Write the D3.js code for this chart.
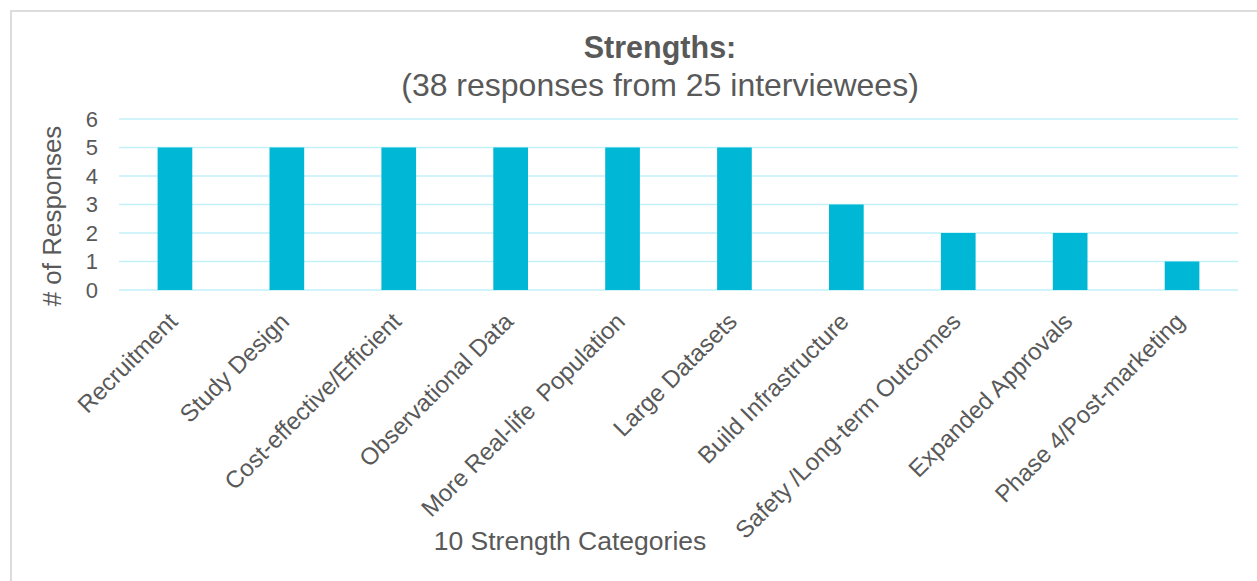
<!DOCTYPE html>
<html>
<head>
<meta charset="utf-8">
<script src="https://cdn.jsdelivr.net/npm/d3@7"></script>
<style>
  html, body { margin: 0; padding: 0; background: #ffffff; }
  svg { display: block; font-family: "Liberation Sans", Arial, sans-serif; }
</style>
</head>
<body>
<svg id="chart" width="1257" height="581"></svg>
<script>
// Strength categories and response counts
const categories = [
  "Recruitment",
  "Study Design",
  "Cost-effective/Efficient",
  "Observational Data",
  "More Real-life  Population",
  "Large Datasets",
  "Build Infrastructure",
  "Safety /Long-term Outcomes",
  "Expanded Approvals",
  "Phase 4/Post-marketing"
];
const responses = [5, 5, 5, 5, 5, 5, 3, 2, 2, 1];
const yTicks = [0, 1, 2, 3, 4, 5, 6];

const titleText = "Strengths:";
const subtitleText = "(38 responses from 25 interviewees)";
const xTitle = "10 Strength Categories";
const yTitle = "# of Responses";

const svg = d3.select("#chart");
const textColor = "#595959";
const barColor = "#00B8D6";
const gridColor = "#C2F1FA";

// outer frame
svg.append("rect")
  .attr("x", 11).attr("y", 11)
  .attr("width", 1400).attr("height", 800)
  .attr("fill", "#ffffff")
  .attr("stroke", "#DCDCDC")
  .attr("stroke-width", 2);

const plot = { left: 119, right: 1238, top: 119, bottom: 290 };

const x = d3.scaleBand()
  .domain(categories)
  .range([plot.left, plot.right])
  .paddingInner(0.69)
  .paddingOuter(0.345);

const y = d3.scaleLinear()
  .domain([0, 6])
  .range([plot.bottom, plot.top]);

// horizontal gridlines
svg.append("g")
  .selectAll("line")
  .data(yTicks)
  .join("line")
  .attr("x1", plot.left).attr("x2", plot.right)
  .attr("y1", d => y(d)).attr("y2", d => y(d))
  .attr("stroke", gridColor)
  .attr("stroke-width", 1.6);

// bars
svg.append("g")
  .selectAll("rect")
  .data(responses)
  .join("rect")
  .attr("x", (d, i) => x(categories[i]))
  .attr("width", x.bandwidth())
  .attr("y", d => y(d))
  .attr("height", d => y(0) - y(d))
  .attr("fill", barColor);

// y axis tick labels
const yAxis = d3.axisLeft(y).tickValues(yTicks).tickFormat(d3.format("d")).tickSize(0).tickPadding(21);
const gy = svg.append("g").attr("transform", `translate(${plot.left},0)`).call(yAxis);
gy.select(".domain").remove();
gy.selectAll("text")
  .attr("fill", textColor)
  .style("font-size", "22px")
  .attr("font-family", "Liberation Sans, Arial, sans-serif");

// x axis category labels, rotated
const xAxis = d3.axisBottom(x).tickSize(0).tickPadding(0);
const gx = svg.append("g").attr("transform", `translate(0,${plot.bottom})`).call(xAxis);
gx.select(".domain").remove();
gx.selectAll(".tick text")
  .attr("fill", textColor)
  .style("font-size", "24px")
  .attr("font-family", "Liberation Sans, Arial, sans-serif")
  .attr("text-anchor", "end")
  .attr("x", 0).attr("y", 0)
  .attr("dy", "0.35em")
  .attr("transform", "translate(-2,27) rotate(-45)")
  .style("white-space", "pre");

// titles
svg.append("text")
  .attr("x", 660).attr("y", 58)
  .attr("text-anchor", "middle")
  .attr("fill", textColor)
  .style("font-size", "30.5px")
  .style("font-weight", "bold")
  .text(titleText);

svg.append("text")
  .attr("x", 660).attr("y", 96)
  .attr("text-anchor", "middle")
  .attr("fill", textColor)
  .style("font-size", "32px")
  .text(subtitleText);

svg.append("text")
  .attr("x", 570).attr("y", 550)
  .attr("text-anchor", "middle")
  .attr("fill", textColor)
  .style("font-size", "26.5px")
  .text(xTitle);

svg.append("text")
  .attr("transform", "translate(61,216) rotate(-90)")
  .attr("text-anchor", "middle")
  .attr("fill", textColor)
  .style("font-size", "26px")
  .text(yTitle);
</script>
</body>
</html>
